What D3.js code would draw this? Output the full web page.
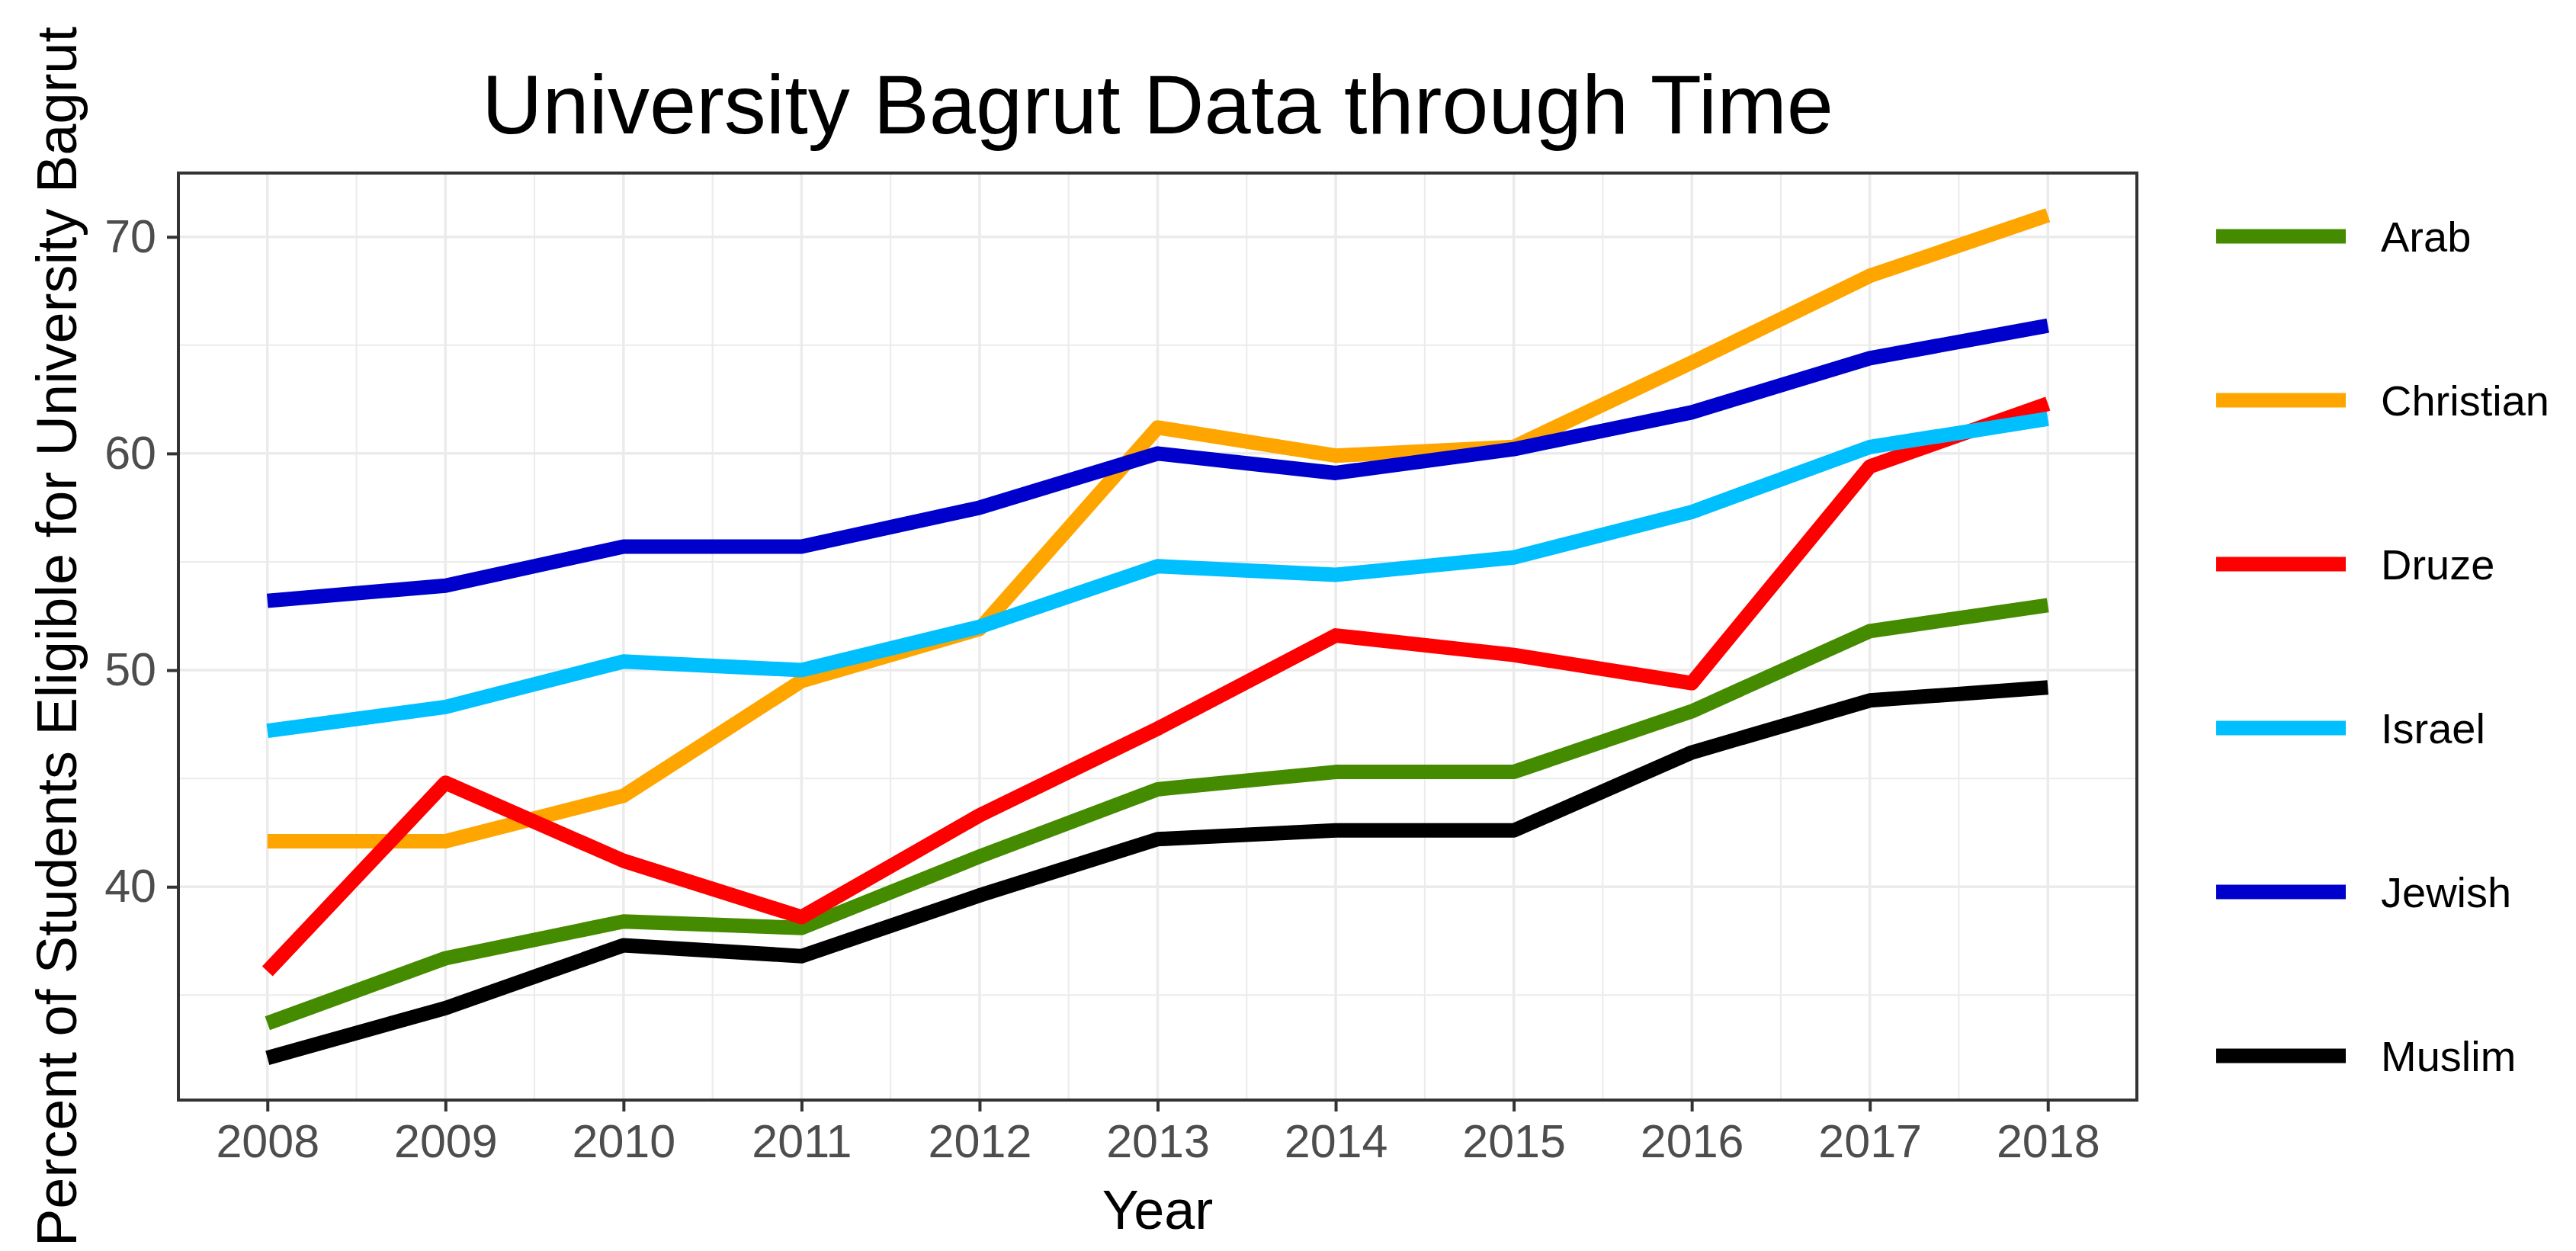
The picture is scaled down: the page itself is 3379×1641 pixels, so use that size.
<!DOCTYPE html>
<html>
<head>
<meta charset="utf-8">
<script src="https://cdn.jsdelivr.net/npm/d3@7"></script>
<style>
  body { margin: 0; background: #ffffff; }
  text { font-family: 'Liberation Sans', Arial, sans-serif; }
</style>
</head>
<body>
<div id="chart"></div>
<script>
const years = [2008, 2009, 2010, 2011, 2012, 2013, 2014, 2015, 2016, 2017, 2018];
const groups = ['Arab', 'Christian', 'Druze', 'Israel', 'Jewish', 'Muslim'];
const colors = ['#458B00', '#FFA500', '#FF0000', '#00BFFF', '#0000CD', '#000000'];

const arab = [33.7, 36.7, 38.4, 38.1, 41.4, 44.5, 45.3, 45.3, 48.1, 51.8, 53.0];
const christian = [42.1, 42.1, 44.2, 49.5, 51.9, 61.2, 59.9, 60.3, 64.2, 68.2, 71.0];
const druze = [36.1, 44.8, 41.2, 38.6, 43.3, 47.3, 51.6, 50.7, 49.4, 59.4, 62.3];
const israel = [47.2, 48.3, 50.4, 50.0, 52.0, 54.8, 54.4, 55.2, 57.3, 60.3, 61.6];
const jewish = [53.2, 53.9, 55.7, 55.7, 57.5, 60.0, 59.1, 60.2, 61.9, 64.4, 65.9];
const muslim = [32.1, 34.4, 37.3, 36.8, 39.6, 42.2, 42.6, 42.6, 46.2, 48.6, 49.2];

const yTicks = [40, 50, 60, 70];

const seriesValues = [arab, christian, druze, israel, jewish, muslim];
const series = groups.map((g, i) => ({
  name: g,
  color: colors[i],
  values: years.map((yr, j) => ({ year: yr, value: seriesValues[i][j] })),
}));

// Dimensions of the page and the panel
const W = 3379;
const H = 1641;
const panel = { left: 234, right: 2803, top: 227, bottom: 1443 };

const svg = d3
  .select('#chart')
  .append('svg')
  .attr('width', W)
  .attr('height', H);

svg.append('rect').attr('width', W).attr('height', H).attr('fill', '#ffffff');

// Scales with ggplot style 5% expansion
const xMin = d3.min(years);
const xMax = d3.max(years);
const xPad = (xMax - xMin) * 0.05;
const x = d3
  .scaleLinear()
  .domain([xMin - xPad, xMax + xPad])
  .range([panel.left, panel.right]);

const allValues = seriesValues.flat();
const yMin = d3.min(allValues);
const yMax = d3.max(allValues);
const yPad = (yMax - yMin) * 0.05;
const y = d3
  .scaleLinear()
  .domain([yMin - yPad, yMax + yPad])
  .range([panel.bottom, panel.top]);

// Grid lines
const grid = svg.append('g');
const xMinor = years.slice(0, -1).map((d) => d + 0.5);
const yMinor = [35, 45, 55, 65];

grid
  .selectAll('.ymin')
  .data(yMinor)
  .enter()
  .append('line')
  .attr('x1', panel.left)
  .attr('x2', panel.right)
  .attr('y1', (d) => y(d))
  .attr('y2', (d) => y(d))
  .attr('stroke', '#EBEBEB')
  .attr('stroke-width', 2);

grid
  .selectAll('.xmin')
  .data(xMinor)
  .enter()
  .append('line')
  .attr('y1', panel.top)
  .attr('y2', panel.bottom)
  .attr('x1', (d) => x(d))
  .attr('x2', (d) => x(d))
  .attr('stroke', '#EBEBEB')
  .attr('stroke-width', 2);

grid
  .selectAll('.ymaj')
  .data(yTicks)
  .enter()
  .append('line')
  .attr('x1', panel.left)
  .attr('x2', panel.right)
  .attr('y1', (d) => y(d))
  .attr('y2', (d) => y(d))
  .attr('stroke', '#EBEBEB')
  .attr('stroke-width', 3.5);

grid
  .selectAll('.xmaj')
  .data(years)
  .enter()
  .append('line')
  .attr('y1', panel.top)
  .attr('y2', panel.bottom)
  .attr('x1', (d) => x(d))
  .attr('x2', (d) => x(d))
  .attr('stroke', '#EBEBEB')
  .attr('stroke-width', 3.5);

// Lines
const line = d3
  .line()
  .x((d) => x(d.year))
  .y((d) => y(d.value));

svg
  .append('g')
  .selectAll('path')
  .data(series)
  .enter()
  .append('path')
  .attr('d', (d) => line(d.values))
  .attr('fill', 'none')
  .attr('stroke', (d) => d.color)
  .attr('stroke-width', 19)
  .attr('stroke-linejoin', 'round')
  .attr('stroke-linecap', 'butt');

// Panel border
svg
  .append('rect')
  .attr('x', panel.left)
  .attr('y', panel.top)
  .attr('width', panel.right - panel.left)
  .attr('height', panel.bottom - panel.top)
  .attr('fill', 'none')
  .attr('stroke', '#333333')
  .attr('stroke-width', 4);

// Axes
const xAxis = svg
  .append('g')
  .attr('transform', `translate(0,${panel.bottom})`)
  .call(d3.axisBottom(x).tickValues(years).tickFormat(d3.format('d')).tickSize(15).tickPadding(17));

const yAxis = svg
  .append('g')
  .attr('transform', `translate(${panel.left},0)`)
  .call(d3.axisLeft(y).tickValues(yTicks).tickSize(15).tickPadding(14));

[xAxis, yAxis].forEach((ax) => {
  ax.select('.domain').remove();
  ax.selectAll('.tick line').attr('stroke', '#333333').attr('stroke-width', 4);
  ax.selectAll('.tick text')
    .attr('fill', '#4D4D4D')
    .style('font-size', '61px')
    .style('font-family', "'Liberation Sans', Arial, sans-serif");
});

// Titles
svg
  .append('text')
  .attr('x', (panel.left + panel.right) / 2)
  .attr('y', 175)
  .attr('text-anchor', 'middle')
  .style('font-size', '110px')
  .attr('fill', '#000000')
  .text('University Bagrut Data through Time');

svg
  .append('text')
  .attr('x', (panel.left + panel.right) / 2)
  .attr('y', 1612)
  .attr('text-anchor', 'middle')
  .style('font-size', '72px')
  .attr('fill', '#000000')
  .text('Year');

svg
  .append('text')
  .attr('transform', `translate(100,${(panel.top + panel.bottom) / 2}) rotate(-90)`)
  .attr('text-anchor', 'middle')
  .style('font-size', '74px')
  .attr('fill', '#000000')
  .text('Percent of Students Eligible for University Bagrut');

// Legend
const legend = svg
  .append('g')
  .selectAll('g')
  .data(series)
  .enter()
  .append('g')
  .attr('transform', (d, i) => `translate(2907,${310 + i * 215})`);

legend
  .append('line')
  .attr('x1', 0)
  .attr('x2', 170)
  .attr('stroke', (d) => d.color)
  .attr('stroke-width', 19);

legend
  .append('text')
  .attr('x', 216)
  .attr('y', 0)
  .attr('dy', '0.35em')
  .style('font-size', '56px')
  .attr('fill', '#000000')
  .text((d) => d.name);
</script>
</body>
</html>
